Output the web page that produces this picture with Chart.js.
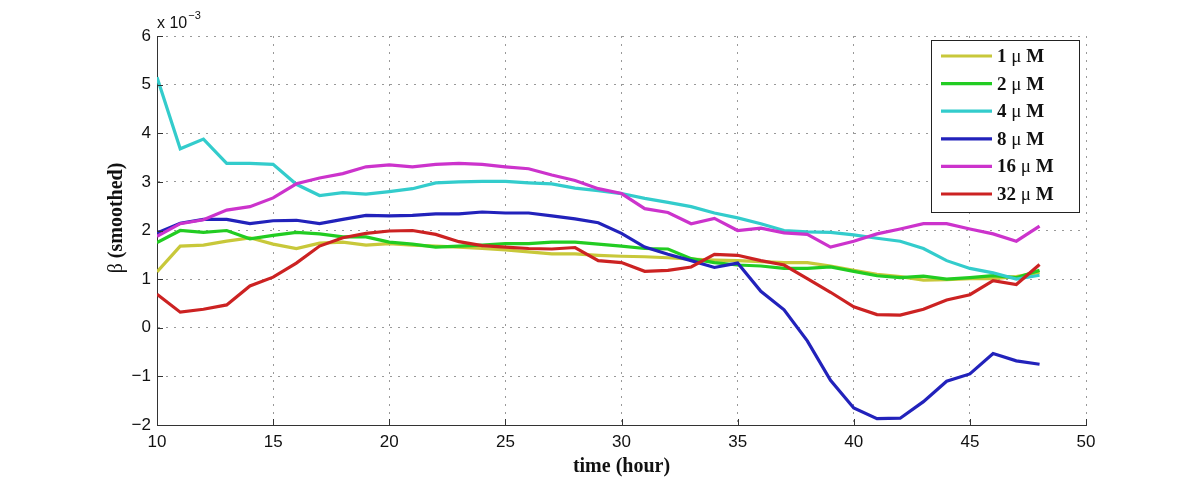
<!DOCTYPE html>
<html lang="en">
<head>
  <meta charset="UTF-8">
  <title>Beta (smoothed) vs time</title>
  <script src="https://cdn.jsdelivr.net/npm/chart.js"></script>
  <style>
    html, body { margin: 0; padding: 0; background: #fff; }
    #chart-container { width: 1200px; height: 479px; }
  </style>
</head>
<body>
  <div id="chart-container">
    <canvas id="lineChart" width="1200" height="479"></canvas>
  </div>

  <script>
    // time in hours
    const hours = [10, 11, 12, 13, 14, 15, 16, 17, 18, 19, 20, 21, 22, 23, 24, 25, 26, 27, 28, 29,
                   30, 31, 32, 33, 34, 35, 36, 37, 38, 39, 40, 41, 42, 43, 44, 45, 46, 47, 48];

    // beta (smoothed), values are x 10^-3
    const beta1 = [1.15, 1.68, 1.70, 1.78, 1.85, 1.72, 1.63, 1.74, 1.76, 1.70, 1.73,
                   1.70, 1.68, 1.66, 1.63, 1.60, 1.56, 1.52, 1.52, 1.49, 1.47,
                   1.46, 1.44, 1.41, 1.39, 1.38, 1.36, 1.34, 1.34, 1.27, 1.18,
                   1.10, 1.05, 0.98, 0.99, 1.01, 1.01, 1.05, 1.14];
    const beta2 = [1.75, 2.00, 1.96, 2.00, 1.83, 1.90, 1.96, 1.93, 1.87, 1.87, 1.76,
                   1.72, 1.66, 1.68, 1.70, 1.73, 1.73, 1.76, 1.76, 1.72, 1.68,
                   1.63, 1.62, 1.42, 1.34, 1.29, 1.27, 1.22, 1.22, 1.25, 1.16,
                   1.07, 1.03, 1.06, 1.00, 1.03, 1.07, 1.03, 1.18];
    const beta4 = [5.15, 3.68, 3.88, 3.38, 3.38, 3.36, 2.95, 2.72, 2.78, 2.75, 2.80,
                   2.86, 2.98, 3.00, 3.01, 3.01, 2.98, 2.96, 2.87, 2.82, 2.76,
                   2.66, 2.58, 2.49, 2.36, 2.26, 2.14, 2.00, 1.97, 1.96, 1.91,
                   1.84, 1.78, 1.63, 1.38, 1.22, 1.13, 1.00, 1.08];
    const beta8 = [1.95, 2.15, 2.23, 2.23, 2.14, 2.20, 2.21, 2.14, 2.23, 2.31, 2.30,
                   2.31, 2.34, 2.34, 2.38, 2.36, 2.36, 2.30, 2.24, 2.16, 1.94,
                   1.66, 1.51, 1.38, 1.24, 1.33, 0.75, 0.37, -0.27, -1.08, -1.65,
                   -1.87, -1.86, -1.52, -1.10, -0.95, -0.53, -0.68, -0.75];
    const beta16 = [1.88, 2.14, 2.22, 2.42, 2.49, 2.67, 2.96, 3.08, 3.17, 3.31, 3.35,
                    3.31, 3.36, 3.38, 3.36, 3.31, 3.27, 3.14, 3.03, 2.86, 2.76,
                    2.45, 2.37, 2.14, 2.25, 2.00, 2.05, 1.95, 1.92, 1.66, 1.78,
                    1.93, 2.03, 2.14, 2.14, 2.03, 1.93, 1.78, 2.09];
    const beta32 = [0.69, 0.32, 0.38, 0.47, 0.86, 1.04, 1.33, 1.68, 1.85, 1.94, 1.99,
                    2.00, 1.92, 1.77, 1.69, 1.66, 1.63, 1.62, 1.65, 1.38, 1.34,
                    1.16, 1.18, 1.25, 1.51, 1.49, 1.38, 1.29, 1.01, 0.73, 0.43,
                    0.27, 0.26, 0.38, 0.57, 0.68, 0.97, 0.89, 1.30];

    const doses = ['1', '2', '4', '8', '16', '32'];
    const series = [beta1, beta2, beta4, beta8, beta16, beta32];
    const colors = ['#c8c83a', '#22cc22', '#33cccc', '#2222bb', '#cc33cc', '#cc2222'];

    const datasets = series.map(function(vals, i) {
      return {
        label: doses[i] + ' \u03bc M',
        data: vals.map(function(v, j) { return { x: hours[j], y: v }; }),
        borderColor: colors[i],
        backgroundColor: colors[i],
        borderWidth: 3.2,
        pointRadius: 0,
        fill: false,
        tension: 0,
        order: series.length - i   // last series drawn on top
      };
    });

    // inward tick marks, y label, exponent and legend box
    const extras = {
      id: 'extras',
      afterDraw: function(chart) {
        const ctx = chart.ctx;
        const xs = chart.scales.x, ys = chart.scales.y;
        const area = chart.chartArea;
        ctx.save();
        ctx.strokeStyle = '#333';
        ctx.lineWidth = 1;
        ctx.beginPath();
        xs.ticks.forEach(function(t) {
          const px = Math.round(xs.getPixelForValue(t.value)) + 0.5;
          ctx.moveTo(px, area.bottom);
          ctx.lineTo(px, area.bottom - 6);
        });
        ys.ticks.forEach(function(t) {
          const py = Math.round(ys.getPixelForValue(t.value)) + 0.5;
          ctx.moveTo(area.left, py);
          ctx.lineTo(area.left + 6, py);
        });
        ctx.stroke();

        // exponent label
        ctx.fillStyle = '#111';
        ctx.textBaseline = 'alphabetic';
        ctx.textAlign = 'left';
        ctx.font = '16px "Liberation Sans", Arial, sans-serif';
        ctx.fillText('x 10', area.left, 28);
        const w = ctx.measureText('x 10').width;
        ctx.font = '11px "Liberation Sans", Arial, sans-serif';
        ctx.fillText('\u22123', area.left + w + 1, 19);

        // y axis title
        ctx.save();
        ctx.translate(122, 218);
        ctx.rotate(-Math.PI / 2);
        ctx.font = '20px "Liberation Serif", "Times New Roman", serif';
        const t1 = '\u03b2 ';
        const w1 = ctx.measureText(t1).width;
        ctx.font = 'bold 20px "Liberation Serif", "Times New Roman", serif';
        const t2 = '(smoothed)';
        const w2 = ctx.measureText(t2).width;
        const start = -(w1 + w2) / 2;
        ctx.font = '20px "Liberation Serif", "Times New Roman", serif';
        ctx.fillText(t1, start, 0);
        ctx.font = 'bold 20px "Liberation Serif", "Times New Roman", serif';
        ctx.fillText(t2, start + w1, 0);
        ctx.restore();

        // legend
        const bx = 931, by = 40, bw = 148, bh = 172;
        ctx.fillStyle = '#fff';
        ctx.fillRect(bx, by, bw, bh);
        ctx.strokeStyle = '#222';
        ctx.lineWidth = 1;
        ctx.strokeRect(bx + 0.5, by + 0.5, bw, bh);
        chart.data.datasets.forEach(function(ds, i) {
          const yy = 56 + i * 27.6;
          ctx.strokeStyle = ds.borderColor;
          ctx.lineWidth = 3.2;
          ctx.beginPath();
          ctx.moveTo(941, yy);
          ctx.lineTo(992, yy);
          ctx.stroke();
          ctx.fillStyle = '#111';
          ctx.textBaseline = 'middle';
          let x0 = 997;
          ctx.font = 'bold 19px "Liberation Serif", "Times New Roman", serif';
          ctx.fillText(doses[i] + ' ', x0, yy + 1);
          x0 += ctx.measureText(doses[i] + ' ').width;
          ctx.font = '19px "Liberation Serif", "Times New Roman", serif';
          ctx.fillText('\u03bc ', x0, yy + 1);
          x0 += ctx.measureText('\u03bc ').width;
          ctx.font = 'bold 19px "Liberation Serif", "Times New Roman", serif';
          ctx.fillText('M', x0, yy + 1);
        });
        ctx.restore();
      }
    };

    const ctx = document.getElementById('lineChart').getContext('2d');
    new Chart(ctx, {
      type: 'line',
      data: { datasets: datasets },
      options: {
        responsive: false,
        maintainAspectRatio: false,
        animation: false,
        layout: { padding: { left: 0, top: 36, right: 114, bottom: 0 } },
        plugins: {
          legend: { display: false },
          tooltip: { enabled: false }
        },
        scales: {
          x: {
            type: 'linear',
            min: 10,
            max: 50,
            afterFit: function(scale) { scale.height = 54; },
            ticks: {
              stepSize: 5,
              color: '#111',
              padding: 7,
              maxRotation: 0,
              font: { family: '"Liberation Sans", Arial, sans-serif', size: 17 }
            },
            grid: { color: '#999', lineWidth: 1, drawTicks: false },
            border: { display: true, color: '#333', width: 1, dash: [2, 6] },
            title: {
              display: true,
              text: 'time (hour)',
              color: '#111',
              padding: { top: 0, bottom: 0 },
              font: { family: '"Liberation Serif", "Times New Roman", serif', size: 20, weight: 'bold' }
            }
          },
          y: {
            min: -2,
            max: 6,
            afterFit: function(scale) { scale.width = 157; },
            ticks: {
              stepSize: 1,
              color: '#111',
              padding: 6,
              font: { family: '"Liberation Sans", Arial, sans-serif', size: 17 },
              callback: function(v) { return v < 0 ? '\u2212' + Math.abs(v) : String(v); }
            },
            grid: { color: '#999', lineWidth: 1, drawTicks: false },
            border: { display: true, color: '#333', width: 1, dash: [2, 6] }
          }
        }
      },
      plugins: [extras]
    });
  </script>
</body>
</html>
